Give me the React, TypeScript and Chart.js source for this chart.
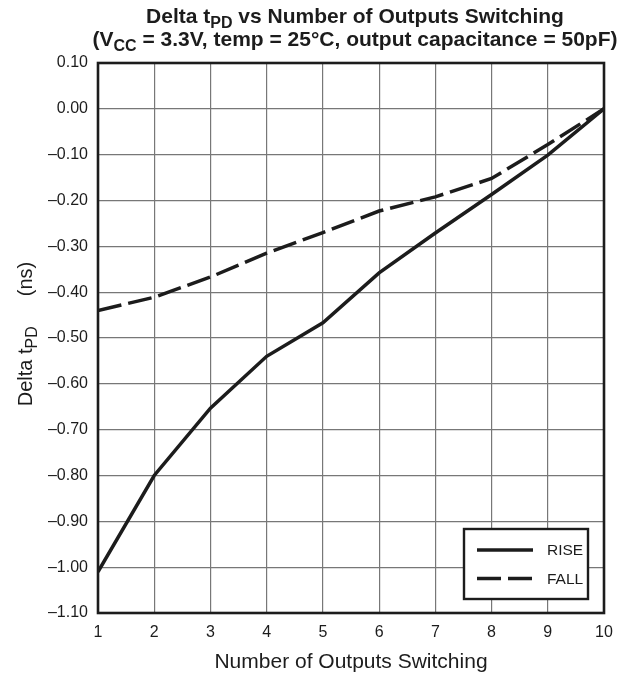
import React, { useEffect, useRef } from "react";
import { Chart, registerables } from "chart.js";

Chart.register(...registerables);

const outputsSwitching = [1, 2, 3, 4, 5, 6, 7, 8, 9, 10];
const riseDelta = [-1.01, -0.8, -0.653, -0.54, -0.467, -0.358, -0.271, -0.187, -0.101, 0.0];
const fallDelta = [-0.44, -0.411, -0.367, -0.315, -0.27, -0.223, -0.192, -0.152, -0.078, 0.0];
const legendLabels = ["RISE", "FALL"];
const titleLine1 = [{ t: "Delta t" }, { t: "PD", sub: true }, { t: " vs Number of Outputs Switching" }];
const titleLine2 = [
  { t: "(V" },
  { t: "CC", sub: true },
  { t: " = 3.3V, temp = 25\u00B0C, output capacitance = 50pF)" },
];
const yTitleParts = [{ t: "Delta t" }, { t: "PD", sub: true }, { gap: 30 }, { t: "(ns)" }];
const xTitle = "Number of Outputs Switching";

const FONT = '"Liberation Sans", Arial, Helvetica, sans-serif';
const INK = "#1c1c1c";
const DASH = [24, 7];

type Part = { t?: string; sub?: boolean; gap?: number };

function drawRich(
  ctx: CanvasRenderingContext2D,
  parts: Part[],
  cx: number,
  baseline: number,
  size: number,
  weight: string
) {
  const subSize = Math.round(size * 0.78);
  const widths = parts.map((p) => {
    if (p.gap) return p.gap;
    ctx.font = `${weight} ${p.sub ? subSize : size}px ${FONT}`;
    return ctx.measureText(p.t || "").width;
  });
  const total = widths.reduce((a, b) => a + b, 0);
  let x = cx - total / 2;
  ctx.textAlign = "left";
  ctx.textBaseline = "alphabetic";
  parts.forEach((p, i) => {
    if (!p.gap) {
      ctx.font = `${weight} ${p.sub ? subSize : size}px ${FONT}`;
      ctx.fillText(p.t || "", x, baseline + (p.sub ? size * 0.25 : 0));
    }
    x += widths[i];
  });
}

const decorPlugin = {
  id: "decor",
  beforeDatasetsDraw(chart: any) {
    const { ctx, chartArea } = chart;
    ctx.save();
    ctx.strokeStyle = INK;
    ctx.lineWidth = 2.6;
    ctx.strokeRect(chartArea.left, chartArea.top, chartArea.right - chartArea.left, chartArea.bottom - chartArea.top);
    ctx.restore();
  },
  afterDraw(chart: any) {
    const { ctx, chartArea } = chart;
    ctx.save();
    ctx.fillStyle = INK;
    // titles
    drawRich(ctx, titleLine1, 355, 23, 21, "bold");
    drawRich(ctx, titleLine2, 355, 46, 21, "bold");
    // x title
    ctx.font = `21px ${FONT}`;
    ctx.textAlign = "center";
    ctx.textBaseline = "middle";
    ctx.fillText(xTitle, (chartArea.left + chartArea.right) / 2, 662);
    // y title
    ctx.save();
    ctx.translate(32, 334);
    ctx.rotate(-Math.PI / 2);
    drawRich(ctx, yTitleParts, 0, 0, 20, "normal");
    ctx.restore();
    // legend
    const bx = 464, by = 529, bw = 124, bh = 70;
    ctx.fillStyle = "#ffffff";
    ctx.fillRect(bx, by, bw, bh);
    ctx.strokeStyle = INK;
    ctx.lineWidth = 2.4;
    ctx.strokeRect(bx, by, bw, bh);
    const rows = [550, 578.5];
    chart.data.datasets.forEach((ds: any, i: number) => {
      ctx.beginPath();
      ctx.lineWidth = 3.5;
      ctx.lineCap = "butt";
      ctx.setLineDash(ds.borderDash || []);
      ctx.moveTo(477, rows[i]);
      ctx.lineTo(533, rows[i]);
      ctx.stroke();
      ctx.setLineDash([]);
      ctx.fillStyle = INK;
      ctx.font = `15.5px ${FONT}`;
      ctx.textAlign = "left";
      ctx.textBaseline = "middle";
      ctx.fillText(legendLabels[i], 547, rows[i] + 1);
    });
    ctx.restore();
  },
};

function fmt(v: number) {
  const r = Math.round(v * 100) / 100;
  if (Math.abs(r) < 1e-9) return "0.00";
  return r < 0 ? "\u2013" + Math.abs(r).toFixed(2) : r.toFixed(2);
}

export default function App() {
  const ref = useRef<HTMLCanvasElement>(null);
  useEffect(() => {
    document.body.style.margin = "0";
    const canvas = ref.current!;
    const chart = new Chart(canvas, {
      type: "line",
      data: {
        datasets: [
          {
            label: legendLabels[0],
            data: outputsSwitching.map((x, i) => ({ x, y: riseDelta[i] })),
            borderColor: INK,
            borderWidth: 3.5,
            pointRadius: 0,
            tension: 0,
            fill: false,
          },
          {
            label: legendLabels[1],
            data: outputsSwitching.map((x, i) => ({ x, y: fallDelta[i] })),
            borderColor: INK,
            borderWidth: 3.5,
            borderDash: DASH,
            pointRadius: 0,
            tension: 0,
            fill: false,
          },
        ],
      },
      options: {
        animation: false,
        responsive: false,
        devicePixelRatio: 1,
        layout: { padding: { top: 63, right: 28, left: 0, bottom: 0 } },
        plugins: { legend: { display: false }, title: { display: false }, tooltip: { enabled: false } },
        scales: {
          x: {
            type: "linear",
            min: 1,
            max: 10,
            afterFit: (s: any) => {
              s.height = 70;
            },
            ticks: {
              stepSize: 1,
              padding: 10,
              color: INK,
              font: { family: FONT, size: 16 },
              maxRotation: 0,
              autoSkip: false,
            },
            grid: { color: "#777", lineWidth: 1.2, drawTicks: false },
            border: { display: false },
          },
          y: {
            type: "linear",
            min: -1.1,
            max: 0.1,
            afterFit: (s: any) => {
              s.width = 98;
            },
            ticks: {
              stepSize: 0.1,
              padding: 10,
              color: INK,
              font: { family: FONT, size: 16 },
              autoSkip: false,
              callback: (v: any) => fmt(Number(v)),
            },
            grid: { color: "#777", lineWidth: 1.2, drawTicks: false },
            border: { display: false },
          },
        },
      },
      plugins: [decorPlugin],
    } as any);
    return () => chart.destroy();
  }, []);
  return <canvas ref={ref} width={632} height={683} style={{ display: "block" }} />;
}
